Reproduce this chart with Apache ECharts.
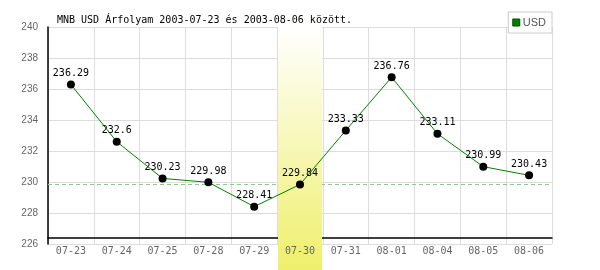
<!DOCTYPE html>
<html><head><meta charset="utf-8">
<script src="https://cdn.jsdelivr.net/npm/echarts@6/dist/echarts.min.js"></script>
<style>html,body{margin:0;padding:0;background:#fff}#c{width:600px;height:270px}</style>
</head><body><div id="c"></div>
<script>
var categories = ['07-23','07-24','07-25','07-28','07-29','07-30','07-31','08-01','08-04','08-05','08-06'];
var usdValues = [236.29, 232.6, 230.23, 229.98, 228.41, 229.84, 233.33, 236.76, 233.11, 230.99, 230.43];
var highlightDay = '07-30';
var referenceValue = 229.84;
var yMin = 226, yMax = 240, yStep = 2;
var titleText = 'MNB USD Árfolyam 2003-07-23 és 2003-08-06 között.';
var seriesName = 'USD';

var bandData = categories.map(function(c){ return c === highlightDay ? 1 : null; });
var mono = 'DejaVu Sans Mono';
var chart = echarts.init(document.getElementById('c'), null, {renderer:'canvas'});
chart.setOption({
  animation: false,
  title: { text: titleText, left: 52, top: 10, textStyle: { fontFamily: mono, fontSize: 10, fontWeight: 'normal', color: '#000' } },
  legend: {
    right: 48, top: 12, z: 20, data: [{ name: seriesName, icon: 'rect', itemStyle: { color: '#008000', borderColor: '#004d00', borderWidth: 1 } }],
    itemWidth: 7, itemHeight: 7, itemGap: 4, padding: [5, 6, 5, 4],
    borderColor: '#cccccc', borderWidth: 1, backgroundColor: '#fff',
    textStyle: { fontFamily: 'Liberation Sans', fontSize: 11, color: '#555', padding: [0,0,0,-2] }
  },
  grid: [
    { left: 48, right: 48, top: 27, bottom: 26 },
    { left: 48, right: 48, top: 27, bottom: 0 }
  ],
  xAxis: [
    { gridIndex: 0, type: 'category', position: 'bottom', data: categories, boundaryGap: true, offset: -6, z: 0,
      axisLine: { lineStyle: { color: '#000', width: 1.5 } }, axisTick: { show: false }, axisLabel: { show: false },
      splitLine: { show: true, lineStyle: { color: '#dddddd' } } },
    { gridIndex: 0, type: 'category', position: 'bottom', data: categories, boundaryGap: true, z: 10,
      axisLine: { show: false }, axisTick: { show: false }, splitLine: { show: false },
      axisLabel: { margin: 2, fontFamily: mono, fontSize: 10, color: '#666' } },
    { gridIndex: 1, type: 'category', data: categories, boundaryGap: true, show: false }
  ],
  yAxis: [
    { gridIndex: 0, type: 'value', min: yMin, max: yMax, interval: yStep, z: 0,
      axisLine: { show: true, lineStyle: { color: '#000', width: 1.5 } }, axisTick: { show: false },
      axisLabel: { margin: 10, fontFamily: 'Liberation Sans', fontSize: 10, color: '#666' },
      splitLine: { show: true, lineStyle: { color: '#dddddd' } } },
    { gridIndex: 1, type: 'value', min: 0, max: 1, show: false }
  ],
  series: [
    { type: 'line', name: 'ref', xAxisIndex: 0, yAxisIndex: 0, data: [], z: 1, silent: true,
      markLine: { z: 1, symbol: 'none', silent: true, label: { show: false },
        lineStyle: { color: '#88cc88', type: [4, 3], width: 1 },
        data: [{ yAxis: referenceValue }] } },
    { type: 'bar', name: 'band', xAxisIndex: 2, yAxisIndex: 1, data: bandData, barWidth: '96%', z: 3, silent: true,
      itemStyle: { color: new echarts.graphic.LinearGradient(0, 0, 0, 1, [
        { offset: 0, color: '#ffffff' }, { offset: 1, color: '#efef6c' } ]) } },
    { type: 'line', name: seriesName, xAxisIndex: 0, yAxisIndex: 0, data: usdValues, z: 5,
      symbol: 'circle', symbolSize: 8,
      itemStyle: { color: '#000' },
      lineStyle: { color: '#008000', width: 1 },
      label: { show: true, position: 'top', distance: 2, fontFamily: mono, fontSize: 10, color: '#000',
        formatter: function(p){ return String(p.value); } } }
  ]
});
</script></body></html>
